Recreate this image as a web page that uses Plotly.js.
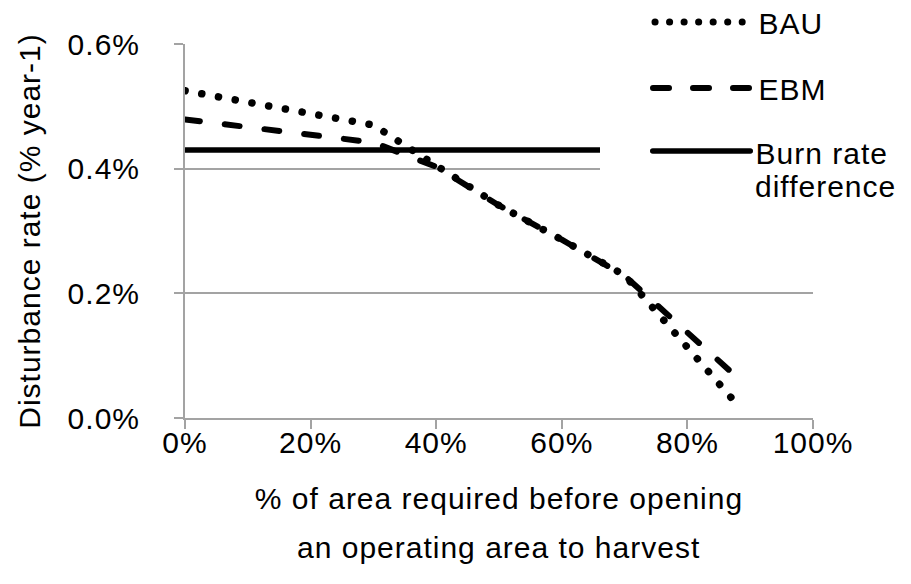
<!DOCTYPE html>
<html>
<head>
<meta charset="utf-8">
<script src="https://cdn.plot.ly/plotly-3.0.1.min.js"></script>
<style>
  html, body { margin: 0; padding: 0; background: #fff; }
  #chart { width: 911px; height: 584px; }
  .main-svg text { letter-spacing: 1px; }
  .scatterlayer .js-line, .shapelayer path { stroke-linecap: round; }
</style>
</head>
<body>
<div id="chart"></div>
<script>
// Data
var areaRequired = [0, 30, 40, 50, 60, 70, 88.5];          // % of area required
var bauRate      = [0.525, 0.470, 0.405, 0.341, 0.286, 0.229, 0.015]; // % per year
var ebmRate      = [0.479, 0.442, 0.403, 0.341, 0.286, 0.228, 0.060]; // % per year
var burnX        = [0, 100];
var burnRate     = [0.43, 0.43];
var seriesNames  = ["BAU", "EBM", "Burn rate difference"];
var xTickVals    = [0, 20, 40, 60, 80, 100];
var xTickText    = ["0%", "20%", "40%", "60%", "80%", "100%"];
var yTickVals    = [0, 0.2, 0.4, 0.6];
var yTickText    = ["0.0%", "0.2%", "0.4%", "0.6%"];

var FONT = 'Arial, "Liberation Sans", sans-serif';
var FS = 30;
var GRID = '#a3a3a3';

var traces = [
  { x: areaRequired, y: bauRate, name: seriesNames[0], mode: 'lines',
    line: { color: '#000', width: 7.5, dash: '0.1px,16.9px' } },
  { x: areaRequired, y: ebmRate, name: seriesNames[1], mode: 'lines',
    line: { color: '#000', width: 6, dash: '15px,25px' } },
  { x: burnX, y: burnRate, name: seriesNames[2], mode: 'lines',
    line: { color: '#000', width: 5.5 } }
];

// pixel -> paper helpers for legend placement (plot area 185..813 x 44..418)
function px(p) { return (p - 185) / 628; }
function py(p) { return (418 - p) / 374; }

var shapes = [
  { type: 'rect', xref: 'paper', yref: 'paper', layer: 'above',
    x0: px(600), x1: px(911), y0: py(225), y1: py(0),
    fillcolor: '#fff', line: { width: 0 } },
  { type: 'line', xref: 'paper', yref: 'paper', layer: 'above',
    x0: px(655), x1: px(742.2), y0: py(22), y1: py(22),
    line: { color: '#000', width: 7, dash: '0.1px,14.43px' } },
  { type: 'line', xref: 'paper', yref: 'paper', layer: 'above',
    x0: px(653), x1: px(750), y0: py(88), y1: py(88),
    line: { color: '#000', width: 6, dash: '16px,24px' } },
  { type: 'line', xref: 'paper', yref: 'paper', layer: 'above',
    x0: px(652.75), x1: px(750.25), y0: py(151), y1: py(151),
    line: { color: '#000', width: 5.5 } }
];

var annFont = { family: FONT, size: FS, color: '#000' };
var annotations = [
  { xref: 'paper', yref: 'paper', x: px(758), y: py(23), xanchor: 'left', yanchor: 'middle',
    text: seriesNames[0], showarrow: false, font: annFont },
  { xref: 'paper', yref: 'paper', x: px(758), y: py(89), xanchor: 'left', yanchor: 'middle',
    text: seriesNames[1], showarrow: false, font: annFont },
  { xref: 'paper', yref: 'paper', x: px(758), y: py(153), xanchor: 'left', yanchor: 'middle',
    text: 'Burn rate', showarrow: false, font: annFont },
  { xref: 'paper', yref: 'paper', x: px(758), y: py(186), xanchor: 'left', yanchor: 'middle',
    text: 'difference', showarrow: false, font: annFont },
  { xref: 'paper', yref: 'paper', x: 0.5, y: py(547), xanchor: 'center', yanchor: 'middle',
    text: 'an operating area to harvest', showarrow: false, font: annFont }
];

var layout = {
  width: 911, height: 584,
  margin: { l: 185, r: 98, t: 44, b: 166 },
  paper_bgcolor: '#fff', plot_bgcolor: '#fff',
  showlegend: false,
  font: { family: FONT, size: FS, color: '#000' },
  xaxis: {
    range: [0, 100], tickmode: 'array', tickvals: xTickVals, ticktext: xTickText,
    showgrid: false, zeroline: false,
    showline: true, linecolor: GRID, linewidth: 2,
    ticks: 'outside', ticklen: 9, tickwidth: 2, tickcolor: GRID,
    ticklabelstandoff: -12,
    tickfont: { family: FONT, size: FS, color: '#000' },
    title: { text: '% of area required before opening', font: { family: FONT, size: FS, color: '#000' }, standoff: 30 }
  },
  yaxis: {
    range: [0, 0.6], tickmode: 'array', tickvals: yTickVals, ticktext: yTickText,
    showgrid: true, gridcolor: GRID, gridwidth: 2, zeroline: false,
    showline: true, linecolor: GRID, linewidth: 2,
    ticks: 'outside', ticklen: 9, tickwidth: 2, tickcolor: GRID,
    ticklabelstandoff: 28,
    tickfont: { family: FONT, size: FS, color: '#000' },
    title: { text: 'Disturbance rate (% year-1)', font: { family: FONT, size: FS, color: '#000' }, standoff: 22 }
  },
  shapes: shapes,
  annotations: annotations
};

Plotly.newPlot('chart', traces, layout, { displayModeBar: false, staticPlot: true });
</script>
</body>
</html>
